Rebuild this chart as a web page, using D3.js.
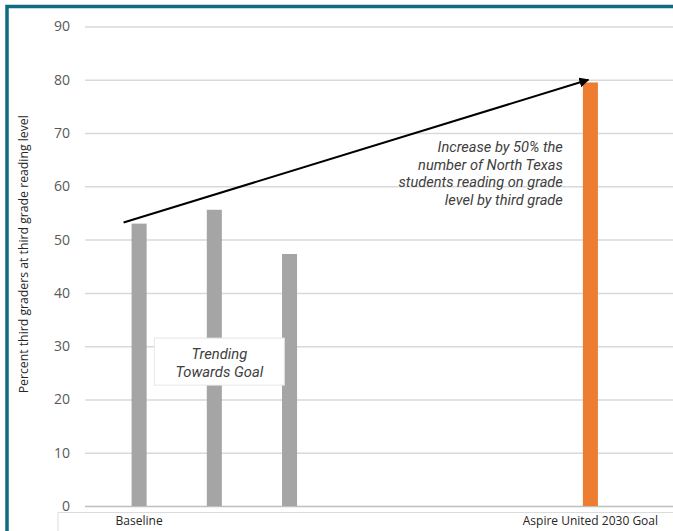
<!DOCTYPE html>
<html>
<head>
<meta charset="utf-8">
<script src="https://cdn.jsdelivr.net/npm/d3@7"></script>
<style>
  body { margin: 0; background: #fff; }
  svg { display: block; }
</style>
</head>
<body>
<div id="chart"></div>
<script>
// categories (slots on the x axis, only first and last are labelled)
var categories = ["baseline", "y2", "y3", "e1", "e2", "e3", "goal"];
var tickLabels = ["Baseline", "", "", "", "", "", "Aspire United 2030 Goal"];
// bars
var barCats = ["baseline", "y2", "y3", "goal"];
var barValues = [53, 55.6, 47.3, 79.5];
var barKinds = ["actual", "actual", "actual", "goal"];
var yTicks = [0, 10, 20, 30, 40, 50, 60, 70, 80, 90];
var yTitle = "Percent third graders at third grade reading level";
var goalNote = ["Increase by 50% the", "number of North Texas", "students reading on grade", "level by third grade"];
var trendNote = ["Trending", "Towards Goal"];
var arrowFrom = 53.2, arrowTo = 80;

var width = 673, height = 531;

var data = barCats.map(function (c, i) {
    return { cat: c, value: barValues[i], kind: barKinds[i] };
});

var svg = d3.select("#chart").append("svg")
    .attr("width", width)
    .attr("height", height);

// ranges
var x = d3.scaleBand()
    .domain(categories)
    .range([101.5, 628])
    .paddingInner(0.8)
    .paddingOuter(0.4);

var y = d3.scaleLinear()
    .domain([0, 90])
    .range([506, 26.5]);

// gridlines + tick labels
var yAxis = svg.append("g")
    .attr("transform", "translate(85,0)")
    .call(d3.axisLeft(y).tickValues(yTicks).tickSize(-(width - 85)).tickPadding(15));
yAxis.select(".domain").remove();
yAxis.selectAll("line")
    .attr("stroke", "#d9d9d9")
    .attr("stroke-width", 1.5);
yAxis.selectAll(".tick").filter(function (d) { return d === 0; })
    .select("line").attr("stroke", "#bfbfbf");
yAxis.selectAll("text")
    .attr("fill", "#595959")
    .style("font-family", "'Open Sans', sans-serif")
    .style("font-size", "14px");

// box under the axis labels
svg.append("path")
    .attr("d", "M58," + height + "V512.5H" + width)
    .attr("fill", "none")
    .attr("stroke", "#dcdcdc")
    .attr("stroke-width", 1);

// bars
svg.selectAll(".bar")
    .data(data)
    .enter().append("rect")
    .attr("class", "bar")
    .attr("x", function (d) { return x(d.cat); })
    .attr("width", x.bandwidth())
    .attr("y", function (d) { return y(d.value); })
    .attr("height", function (d) { return y(0) - y(d.value); })
    .attr("fill", function (d) { return d.kind === "goal" ? "#ed7d31" : "#a5a5a5"; });

// x labels
var xAxis = svg.append("g")
    .attr("transform", "translate(0," + y(0) + ")")
    .call(d3.axisBottom(x).tickSize(0).tickPadding(10).tickFormat(function (d, i) {
        return tickLabels[i];
    }));
xAxis.select(".domain").remove();
xAxis.selectAll("text")
    .attr("fill", "#262626")
    .style("font-family", "'Open Sans', sans-serif")
    .style("font-size", "12px");

// y title
svg.append("text")
    .attr("transform", "translate(28," + ((y(0) + y(90)) / 2 - 12) + ") rotate(-90)")
    .attr("text-anchor", "middle")
    .attr("textLength", 278)
    .attr("lengthAdjust", "spacingAndGlyphs")
    .attr("fill", "#262626")
    .style("font-family", "'Open Sans', sans-serif")
    .style("font-size", "12px")
    .text(yTitle);

// arrow from baseline to goal
svg.append("defs").append("marker")
    .attr("id", "head")
    .attr("viewBox", "0 0 10 10")
    .attr("refX", 9).attr("refY", 5)
    .attr("markerWidth", 5).attr("markerHeight", 5)
    .attr("orient", "auto")
    .append("path")
    .attr("d", "M0,0L10,5L0,10Z")
    .attr("fill", "#000");

svg.append("line")
    .attr("x1", x("baseline") - 8)
    .attr("y1", y(arrowFrom))
    .attr("x2", x("goal") + x.bandwidth() / 2 - 2)
    .attr("y2", y(arrowTo))
    .attr("stroke", "#000")
    .attr("stroke-width", 2)
    .attr("marker-end", "url(#head)");

// goal note
var note = svg.append("text")
    .attr("text-anchor", "end")
    .attr("fill", "#404040")
    .style("font-family", "Roboto, sans-serif")
    .style("font-style", "italic")
    .style("font-size", "14.6px");
note.selectAll("tspan")
    .data(goalNote)
    .enter().append("tspan")
    .attr("x", x("goal") - 20)
    .attr("y", function (d, i) { return y(70) + 19 + i * 17.5; })
    .text(function (d) { return d; });

// trending box
var cx = x("y2") + x.bandwidth() / 2 + 5;
var cy = y(27.1);
svg.append("rect")
    .attr("x", cx - 65)
    .attr("y", cy - 23.5)
    .attr("width", 130)
    .attr("height", 47)
    .attr("fill", "#fff")
    .attr("stroke", "#e6e6e6")
    .attr("stroke-width", 1);
var trend = svg.append("text")
    .attr("text-anchor", "middle")
    .attr("fill", "#404040")
    .style("font-family", "Roboto, sans-serif")
    .style("font-style", "italic")
    .style("font-size", "14.8px");
trend.selectAll("tspan")
    .data(trendNote)
    .enter().append("tspan")
    .attr("x", cx)
    .attr("y", function (d, i) { return cy - 3 + i * 18; })
    .text(function (d) { return d; });

// teal frame
svg.append("path")
    .attr("d", "M7," + height + "V6.5H" + width)
    .attr("fill", "none")
    .attr("stroke", "#106a80")
    .attr("stroke-width", 3.5);
</script>
</body>
</html>
